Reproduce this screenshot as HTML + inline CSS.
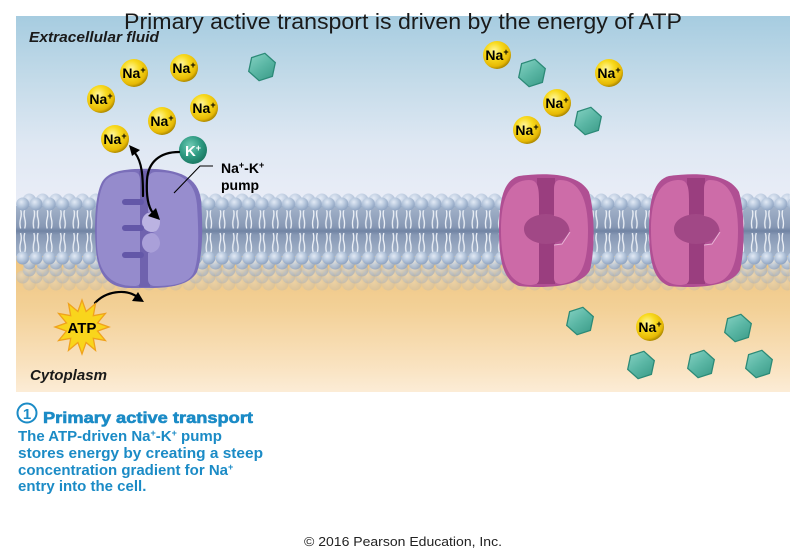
<!DOCTYPE html>
<html><head><meta charset="utf-8"><style>
html,body{margin:0;padding:0;background:#fff;}
svg{display:block;}
text{font-family:"Liberation Sans",Arial,sans-serif;}
</style></head><body>
<svg width="800" height="559" viewBox="0 0 800 559" xmlns="http://www.w3.org/2000/svg">
<defs>
  <linearGradient id="bgTop" x1="0" y1="16" x2="0" y2="200" gradientUnits="userSpaceOnUse">
    <stop offset="0" stop-color="#a6cce0"/>
    <stop offset="0.35" stop-color="#c4dbe9"/>
    <stop offset="0.7" stop-color="#dfe8f3"/>
    <stop offset="1" stop-color="#e9edf7"/>
  </linearGradient>
  <linearGradient id="bgBot" x1="0" y1="256" x2="0" y2="392" gradientUnits="userSpaceOnUse">
    <stop offset="0" stop-color="#eec47f"/>
    <stop offset="0.4" stop-color="#f3d198"/>
    <stop offset="0.8" stop-color="#f9e2bf"/>
    <stop offset="1" stop-color="#fcecd6"/>
  </linearGradient>
  <linearGradient id="tailG" x1="0" y1="206" x2="0" y2="256" gradientUnits="userSpaceOnUse">
    <stop offset="0" stop-color="#a3b3ca"/>
    <stop offset="0.42" stop-color="#8798b4"/>
    <stop offset="0.5" stop-color="#7083a3"/>
    <stop offset="0.58" stop-color="#8798b4"/>
    <stop offset="1" stop-color="#a3b3ca"/>
  </linearGradient>
  <radialGradient id="headG" cx="0.4" cy="0.35" r="0.65">
    <stop offset="0" stop-color="#e2eaf5"/>
    <stop offset="0.5" stop-color="#b9c9de"/>
    <stop offset="1" stop-color="#8fa4c2"/>
  </radialGradient>
  <pattern id="heads" patternUnits="userSpaceOnUse" x="0" y="0" width="13.3" height="14">
    <circle cx="6.65" cy="7" r="6.5" fill="url(#headG)"/>
  </pattern>
  <pattern id="tails" patternUnits="userSpaceOnUse" x="0" y="0" width="13.3" height="50">
    <path d="M4.6 3 q1.3 5 0 9.5 q-1.3 5 0 10 M8.7 3 q-1.3 5 0 9.5 q1.3 5 0 10 M4.6 27 q1.3 5 0 9.5 q-1.3 5 0 10 M8.7 27 q-1.3 5 0 9.5 q1.3 5 0 10" stroke="#eef2f8" stroke-width="1.3" fill="none"/>
  </pattern>
  <radialGradient id="naG" cx="0.4" cy="0.35" r="0.65">
    <stop offset="0" stop-color="#fff7a0"/>
    <stop offset="0.45" stop-color="#f8da1e"/>
    <stop offset="0.85" stop-color="#e6b905"/>
    <stop offset="1" stop-color="#b18c00"/>
  </radialGradient>
  <radialGradient id="kG" cx="0.4" cy="0.35" r="0.65">
    <stop offset="0" stop-color="#6fcbb4"/>
    <stop offset="0.6" stop-color="#2e9a82"/>
    <stop offset="1" stop-color="#1b7a64"/>
  </radialGradient>
  <linearGradient id="hexG" x1="0" y1="0" x2="1" y2="1">
    <stop offset="0" stop-color="#86d2c3"/>
    <stop offset="0.5" stop-color="#5ab6a4"/>
    <stop offset="1" stop-color="#3a9a87"/>
  </linearGradient>
  <g id="hex">
    <polygon points="0,-14 12.1,-7 12.1,7 0,14 -12.1,7 -12.1,-7" fill="url(#hexG)" stroke="#2c8a77" stroke-width="1.3" transform="rotate(12)"/>
  </g>
  <g id="pink">
    <path d="M20 2 C50 -2 80 0 90 18 C96 38 96 76 91 96 C83 112 50 115 20 112 C4 106 0 86 0 56 C0 25 5 6 20 2 Z" fill="#b04f93"/>
    <rect x="38" y="4" width="18" height="106" fill="#9a3e7f"/>
    <ellipse cx="47" cy="55" rx="23" ry="15" fill="#a14886"/>
    <path d="M30 6 C38 6 40 12 40 25 L40 41 C30 43 25 49 25 55 C25 62 31 67 40 69 L40 105 C40 110 36 111 30 111 C10 110 2 90 2 56 C2 25 10 6 30 6 Z" fill="#cc6aa7"/>
    <path d="M61 6 C80 6 89 25 89 56 C89 90 82 108 62 110 C57 110 55 108 55 104 L55 71 L63 70 L71 58 C70 48 63 43 55 42 L55 15 C55 9 57 6 61 6 Z" fill="#cd6ca8"/>
    <path d="M55 71 L63 70 L71 58" stroke="#e9b4d6" stroke-width="1" fill="none"/>
  </g>
</defs>

<!-- panel background -->
<rect x="16" y="16" width="774" height="240" fill="url(#bgTop)"/>
<rect x="16" y="256" width="774" height="136" fill="url(#bgBot)"/>

<!-- membrane lower surface (perspective rows) -->
<rect transform="translate(22.65,277)" width="767" height="14" fill="url(#heads)" opacity="0.22"/>
<rect transform="translate(16,270)" width="774" height="14" fill="url(#heads)" opacity="0.36"/>
<rect transform="translate(22.65,263)" width="767" height="14" fill="url(#heads)" opacity="0.55"/>
<!-- tails -->
<rect x="16" y="206" width="774" height="50" fill="url(#tailG)"/>
<rect transform="translate(16,206)" width="774" height="50" fill="url(#tails)"/>
<!-- heads -->
<rect transform="translate(22.65,193)" width="767" height="14" fill="url(#heads)" opacity="0.7"/>
<rect transform="translate(16,197)" width="774" height="14" fill="url(#heads)"/>
<rect transform="translate(22.65,256)" width="767" height="14" fill="url(#heads)" opacity="0.8"/>
<rect transform="translate(16,251)" width="774" height="14" fill="url(#heads)"/>

<!-- Na+-K+ pump -->
<g>
  <path d="M135 169 C175 167 198 175 201 200 C203 225 203 255 197 272 C190 285 170 288 150 288 L130 288 C108 288 98 275 96 250 C94 225 95 195 102 182 C108 172 120 170 135 169 Z" fill="#7a6eb9"/>
  <rect x="139" y="171" width="11" height="116" fill="#6f62ae"/>
  <ellipse cx="152" cy="222" rx="10" ry="10" fill="#bbb3e2"/>
  <ellipse cx="152" cy="243" rx="10" ry="10" fill="#aaa0d9"/>
  <path d="M133 172 C138 172 140 175 140 180 L140 282 C140 285 138 286 134 286 C110 286 98 272 97 245 C96 215 98 190 106 180 C112 174 122 172 133 172 Z" fill="#958bcc"/>
  <path d="M156 172 C180 172 195 180 197 205 C199 235 199 262 193 274 C187 284 172 286 155 286 C150 286 148 283 148 279 L148 253 C156 253 160 248 160 243 C160 238 156 233 151 233 C156 233 160 228 160 222 C160 216 156 212 148 212 L148 180 C148 175 151 172 156 172 Z" fill="#978dce"/>
  <rect x="122" y="199" width="22" height="6" rx="3" fill="#6357a8"/>
  <rect x="122" y="225" width="22" height="6" rx="3" fill="#6357a8"/>
  <rect x="122" y="252" width="22" height="6" rx="3" fill="#6357a8"/>
</g>

<!-- pink channels -->
<use href="#pink" x="499" y="174"/>
<use href="#pink" x="649" y="174"/>

<!-- hexagons -->
<use href="#hex" x="262" y="67"/>
<use href="#hex" x="532" y="73"/>
<use href="#hex" x="588" y="121"/>
<use href="#hex" x="580" y="321"/>
<use href="#hex" x="738" y="328"/>
<use href="#hex" x="641" y="365"/>
<use href="#hex" x="701" y="364"/>
<use href="#hex" x="759" y="364"/>

<!-- Na+ ions -->
<g font-weight="bold" font-size="14" fill="#000" text-anchor="middle">
  <circle cx="134" cy="73" r="14" fill="url(#naG)"/><text x="134" y="78">Na<tspan font-size="9" dy="-5">+</tspan></text>
  <circle cx="184" cy="68" r="14" fill="url(#naG)"/><text x="184" y="73">Na<tspan font-size="9" dy="-5">+</tspan></text>
  <circle cx="101" cy="99" r="14" fill="url(#naG)"/><text x="101" y="104">Na<tspan font-size="9" dy="-5">+</tspan></text>
  <circle cx="204" cy="108" r="14" fill="url(#naG)"/><text x="204" y="113">Na<tspan font-size="9" dy="-5">+</tspan></text>
  <circle cx="162" cy="121" r="14" fill="url(#naG)"/><text x="162" y="126">Na<tspan font-size="9" dy="-5">+</tspan></text>
  <circle cx="115" cy="139" r="14" fill="url(#naG)"/><text x="115" y="144">Na<tspan font-size="9" dy="-5">+</tspan></text>
  <circle cx="497" cy="55" r="14" fill="url(#naG)"/><text x="497" y="60">Na<tspan font-size="9" dy="-5">+</tspan></text>
  <circle cx="609" cy="73" r="14" fill="url(#naG)"/><text x="609" y="78">Na<tspan font-size="9" dy="-5">+</tspan></text>
  <circle cx="557" cy="103" r="14" fill="url(#naG)"/><text x="557" y="108">Na<tspan font-size="9" dy="-5">+</tspan></text>
  <circle cx="527" cy="130" r="14" fill="url(#naG)"/><text x="527" y="135">Na<tspan font-size="9" dy="-5">+</tspan></text>
  <circle cx="650" cy="327" r="14" fill="url(#naG)"/><text x="650" y="332">Na<tspan font-size="9" dy="-5">+</tspan></text>
</g>

<!-- K+ ion -->
<circle cx="193" cy="150" r="14" fill="url(#kG)"/>
<text x="193" y="156" font-weight="bold" font-size="15" fill="#fff" text-anchor="middle">K<tspan font-size="9" dy="-5">+</tspan></text>

<!-- arrows -->
<g fill="none" stroke="#000" stroke-width="2.2" stroke-linecap="round">
  <path d="M143 196 C143 176 142 162 135 153"/>
  <path d="M179 152 C160 152 148 162 147 180 C146 198 149 208 153 213"/>
  <path d="M95 303 C106 291 125 289 136 296"/>
</g>
<polygon points="129,145 140,150 132,156" fill="#000"/>
<polygon points="160,220 148,216 156,208" fill="#000"/>
<polygon points="144,302 132,301 138,292" fill="#000"/>

<!-- label line -->
<polyline points="213,166 200,166 174,193" fill="none" stroke="#000" stroke-width="1.1"/>
<text x="221" y="173" font-weight="bold" font-size="14" fill="#000">Na<tspan font-size="9" dy="-5">+</tspan><tspan dy="5">-K</tspan><tspan font-size="9" dy="-5">+</tspan></text>
<text x="221" y="190" font-weight="bold" font-size="14" fill="#000">pump</text>

<!-- ATP starburst -->
<polygon points="109,327 97.5,331.1 105.4,340.5 93.3,338.3 95.5,350.4 86.1,342.5 82,354 77.9,342.5 68.5,350.4 70.7,338.3 58.6,340.5 66.5,331.1 55,327 66.5,322.9 58.6,313.5 70.7,315.7 68.5,303.6 77.9,311.5 82,300 86.1,311.5 95.5,303.6 93.3,315.7 105.4,313.5 97.5,322.9" fill="#f9d51c" stroke="#f0a21c" stroke-width="1.3" stroke-linejoin="miter"/>
<text x="82" y="333" font-weight="bold" font-size="15" fill="#000" text-anchor="middle">ATP</text>

<!-- region labels -->
<text x="29" y="42" font-weight="bold" font-style="italic" font-size="15" fill="#1a1a1a" textLength="130" lengthAdjust="spacingAndGlyphs">Extracellular fluid</text>
<text x="30" y="380" font-weight="bold" font-style="italic" font-size="15" fill="#1a1a1a" textLength="77" lengthAdjust="spacingAndGlyphs">Cytoplasm</text>

<!-- title -->
<text x="124" y="29" font-size="22" fill="#1a1a1a" textLength="558" lengthAdjust="spacingAndGlyphs">Primary active transport is driven by the energy of ATP</text>

<!-- caption -->
<circle cx="27" cy="413" r="9.5" fill="#fff" stroke="#1b8bc6" stroke-width="2"/>
<text x="27" y="419" font-weight="bold" font-size="15" fill="#1b8bc6" text-anchor="middle">1</text>
<text x="43" y="423" font-weight="bold" font-size="16" fill="#1b8bc6" stroke="#1b8bc6" stroke-width="0.6" textLength="210" lengthAdjust="spacingAndGlyphs">Primary active transport</text>
<g font-weight="bold" font-size="15" fill="#1b8bc6">
  <text x="18" y="441">The ATP-driven Na<tspan font-size="9" dy="-5">+</tspan><tspan dy="5">-K</tspan><tspan font-size="9" dy="-5">+</tspan><tspan dy="5"> pump</tspan></text>
  <text x="18" y="458" textLength="245" lengthAdjust="spacingAndGlyphs">stores energy by creating a steep</text>
  <text x="18" y="475">concentration gradient for Na<tspan font-size="9" dy="-5">+</tspan></text>
  <text x="18" y="491">entry into the cell.</text>
</g>

<!-- copyright -->
<text x="304" y="546" font-size="13" fill="#222" textLength="198" lengthAdjust="spacingAndGlyphs">© 2016 Pearson Education, Inc.</text>
</svg>
</body></html>
